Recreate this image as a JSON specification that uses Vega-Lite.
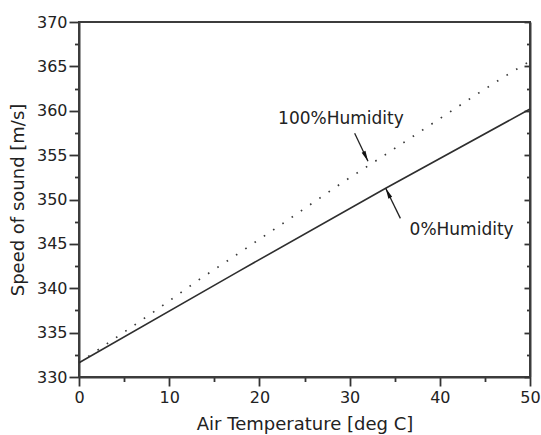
{
  "$schema": "https://vega.github.io/schema/vega-lite/v6.json",
  "width": 451,
  "height": 355,
  "autosize": {"type": "none"},
  "padding": {"left": 79, "top": 22, "right": 11, "bottom": 58},
  "background": "white",
  "config": {
    "font": "DejaVu Sans",
    "view": {"stroke": "#3c3c3c", "strokeWidth": 2},
    "axis": {
      "grid": false,
      "domainColor": "#3c3c3c",
      "domainWidth": 2,
      "tickColor": "#333333",
      "tickWidth": 1.8,
      "labelColor": "#222222",
      "titleColor": "#222222",
      "labelFont": "DejaVu Sans",
      "titleFont": "DejaVu Sans",
      "labelFontSize": 16,
      "titleFontSize": 18,
      "titleFontWeight": "normal",
      "labelOverlap": false,
      "labelFlush": false
    }
  },
  "datasets": {
    "humid": [
      {"t": 0, "v": 331.6},
      {"t": 3.95, "v": 334.33},
      {"t": 8.19, "v": 337.27},
      {"t": 13.18, "v": 340.88},
      {"t": 17.24, "v": 343.62},
      {"t": 22.45, "v": 347.2},
      {"t": 29.46, "v": 352.09},
      {"t": 33.63, "v": 354.83},
      {"t": 43.78, "v": 361.65},
      {"t": 46.9, "v": 363.68},
      {"t": 49.02, "v": 364.99},
      {"t": 50, "v": 365.6}
    ],
    "dry": [
      {"t": 0, "v": 331.6},
      {"t": 17.6, "v": 341.85},
      {"t": 34, "v": 351.26},
      {"t": 50, "v": 360.2}
    ],
    "labels": [
      {"text": "100%Humidity", "t": 22.07, "v": 358.52},
      {"text": "0%Humidity", "t": 36.65, "v": 346.0}
    ],
    "arrows": [
      {"name": "100%", "t0": 30.56, "v0": 357.47, "t1": 32.04, "v1": 354.31},
      {"name": "0%", "t0": 35.63, "v0": 347.87, "t1": 34.0, "v1": 351.26}
    ]
  },
  "resolve": {"axis": {"y": "independent"}},
  "layer": [
    {
      "data": {"name": "humid"},
      "mark": {"type": "line", "color": "#3a3a3a", "strokeWidth": 1.7, "strokeDash": [1.6, 9.6]},
      "encoding": {
        "x": {
          "field": "t", "type": "quantitative",
          "scale": {"domain": [0, 50], "nice": false},
          "axis": {
            "title": "Air Temperature [deg C]",
            "values": [0, 5, 10, 15, 20, 25, 30, 35, 40, 45, 50],
            "format": "d",
            "labelExpr": "datum.value % 10 === 0 ? datum.label : ''",
            "tickSize": {"condition": {"test": "datum.value % 10 === 0", "value": 9}, "value": 4.5},
            "labelPadding": 3,
            "titlePadding": 10
          }
        },
        "y": {
          "field": "v", "type": "quantitative",
          "scale": {"domain": [330, 370], "nice": false, "zero": false},
          "axis": {
            "orient": "left",
            "title": "Speed of sound [m/s]",
            "values": [330, 332.5, 335, 337.5, 340, 342.5, 345, 347.5, 350, 352.5, 355, 357.5, 360, 362.5, 365, 367.5, 370],
            "format": "d",
            "labelExpr": "datum.value % 5 === 0 ? datum.label : ''",
            "tickSize": {"condition": {"test": "datum.value % 5 === 0", "value": 10}, "value": 4.5},
            "labelPadding": 2,
            "titlePadding": 9
          }
        }
      }
    },
    {
      "data": {"name": "dry"},
      "mark": {"type": "line", "color": "#2e2e2e", "strokeWidth": 1.6},
      "encoding": {
        "x": {"field": "t", "type": "quantitative", "title": "Air Temperature [deg C]"},
        "y": {
          "field": "v", "type": "quantitative",
          "axis": {
            "orient": "right",
            "title": null,
            "labels": false,
            "values": [330, 332.5, 335, 337.5, 340, 342.5, 345, 347.5, 350, 352.5, 355, 357.5, 360, 362.5, 365, 367.5, 370],
            "tickSize": {"condition": {"test": "datum.value % 5 === 0", "value": -6}, "value": -3.5}
          }
        }
      }
    },
    {
      "data": {"name": "arrows"},
      "mark": {"type": "rule", "color": "#222222", "strokeWidth": 1.3},
      "encoding": {
        "x": {"field": "t0", "type": "quantitative", "title": "Air Temperature [deg C]"},
        "y": {"field": "v0", "type": "quantitative", "axis": null},
        "x2": {"field": "t1"},
        "y2": {"field": "v1"}
      }
    },
    {
      "data": {"name": "arrows"},
      "transform": [{"filter": "datum.name === '100%'"}],
      "mark": {"type": "point", "shape": "M0,0L-0.4,2L0.4,2Z", "filled": true, "color": "#111111", "opacity": 1, "size": 110, "angle": 155},
      "encoding": {
        "x": {"field": "t1", "type": "quantitative", "title": "Air Temperature [deg C]"},
        "y": {"field": "v1", "type": "quantitative", "axis": null}
      }
    },
    {
      "data": {"name": "arrows"},
      "transform": [{"filter": "datum.name === '0%'"}],
      "mark": {"type": "point", "shape": "M0,0L-0.4,2L0.4,2Z", "filled": true, "color": "#111111", "opacity": 1, "size": 110, "angle": 334},
      "encoding": {
        "x": {"field": "t1", "type": "quantitative", "title": "Air Temperature [deg C]"},
        "y": {"field": "v1", "type": "quantitative", "axis": null}
      }
    },
    {
      "data": {"name": "labels"},
      "mark": {"type": "text", "align": "left", "baseline": "alphabetic", "fontSize": 17, "font": "DejaVu Sans", "color": "#222222"},
      "encoding": {
        "x": {"field": "t", "type": "quantitative", "title": "Air Temperature [deg C]"},
        "y": {"field": "v", "type": "quantitative", "axis": null},
        "text": {"field": "text"}
      }
    }
  ]
}
